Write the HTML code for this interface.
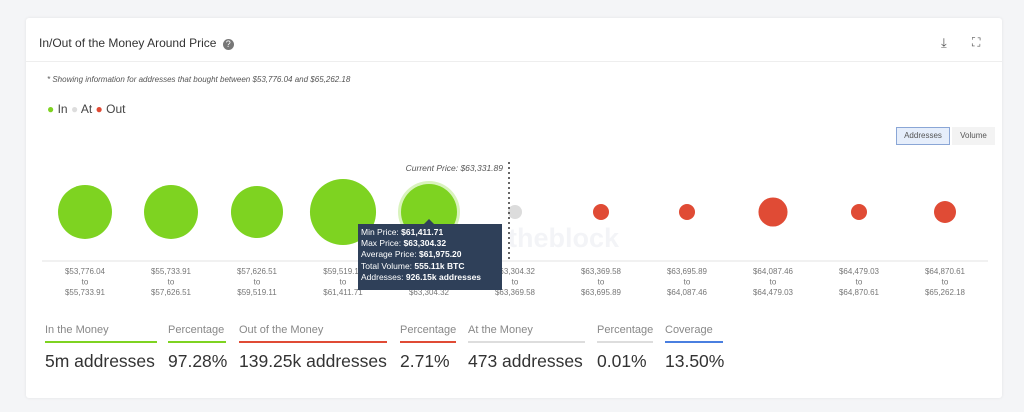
<!DOCTYPE html>
<html><head><meta charset="utf-8"><style>
body{margin:0;width:1024px;height:412px;background:#f4f5f7;font-family:"Liberation Sans",sans-serif;overflow:hidden;position:relative}
.card{position:absolute;left:26px;top:18px;width:976px;height:380px;background:#fff;border-radius:3px;box-shadow:0 0 3px rgba(0,0,0,.08)}
.abs{position:absolute}
.stat{position:absolute;top:324px}
.stat .l{font-size:11px;color:#888;padding-bottom:5px;border-bottom:2px solid}
.stat .v{font-size:17.5px;color:#333;margin-top:8px;white-space:nowrap}
</style></head><body>
<div class="card"></div>
<div class="abs" style="left:39px;top:36px;font-size:12px;color:#333">In/Out of the Money Around Price <span style="display:inline-block;width:11px;height:11px;border-radius:50%;background:#777;color:#fff;font-size:9px;text-align:center;line-height:11px;margin-left:3px">?</span></div>
<div class="abs" style="left:941px;top:35px;font-size:13px;color:#555">⤓</div>
<div class="abs" style="left:972px;top:35px;font-size:12px;color:#555">⛶</div>
<div class="abs" style="left:26px;top:61px;width:976px;height:1px;background:#eee"></div>
<div class="abs" style="left:47px;top:75px;font-size:8px;font-style:italic;color:#555">* Showing information for addresses that bought between $53,776.04 and $65,262.18</div>
<div class="abs" style="left:47px;top:102px;font-size:12px;color:#444">
<span><span style="color:#7ed321">●</span> In</span>
<span><span style="color:#ddd">●</span> At</span>
<span><span style="color:#e04b35">●</span> Out</span></div>
<div class="abs" style="left:896px;top:127px;width:52px;height:16px;border:1px solid #8aa6d6;background:#e6eefb;font-size:8px;color:#555;text-align:center;line-height:16px">Addresses</div>
<div class="abs" style="left:952px;top:127px;width:43px;height:18px;background:#f3f3f3;font-size:8px;color:#555;text-align:center;line-height:18px">Volume</div>
<svg class="abs" style="left:0;top:0" width="1024" height="412">
<text x="508" y="247" font-size="27" font-weight="bold" fill="#f3f4f7">theblock</text>
<g id="g"></g></svg>
<div class="abs" style="left:358px;top:224px;width:138px;height:60px;padding:3px;background:#2f4059;color:#fff;font-size:8.5px;line-height:11.2px">
<div style="position:absolute;left:66px;top:-5px;border:5px solid transparent;border-top:0;border-bottom-color:#2f4059"></div>
Min Price: <b>$61,411.71</b><br>Max Price: <b>$63,304.32</b><br>Average Price: <b>$61,975.20</b><br>Total Volume: <b>555.11k BTC</b><br>Addresses: <b>926.15k addresses</b></div>
<div class="stat" style="left:45px"><div class="l" style="border-color:#7ed321;width:112px">In the Money</div><div class="v">5m addresses</div></div>
<div class="stat" style="left:168px"><div class="l" style="border-color:#7ed321;width:58px">Percentage</div><div class="v">97.28%</div></div>
<div class="stat" style="left:239px"><div class="l" style="border-color:#e04b35;width:148px">Out of the Money</div><div class="v">139.25k addresses</div></div>
<div class="stat" style="left:400px"><div class="l" style="border-color:#e04b35;width:56px">Percentage</div><div class="v">2.71%</div></div>
<div class="stat" style="left:468px"><div class="l" style="border-color:#ddd;width:117px">At the Money</div><div class="v">473 addresses</div></div>
<div class="stat" style="left:597px"><div class="l" style="border-color:#ddd;width:56px">Percentage</div><div class="v">0.01%</div></div>
<div class="stat" style="left:665px"><div class="l" style="border-color:#4a7fe0;width:58px">Coverage</div><div class="v">13.50%</div></div>
<script>
const lows=["$53,776.04","$55,733.91","$57,626.51","$59,519.11","$61,411.71","$63,304.32","$63,369.58","$63,695.89","$64,087.46","$64,479.03","$64,870.61"];
const highs=["$55,733.91","$57,626.51","$59,519.11","$61,411.71","$63,304.32","$63,369.58","$63,695.89","$64,087.46","$64,479.03","$64,870.61","$65,262.18"];
const status=["in","in","in","in","in","at","out","out","out","out","out"];
const addresses=[860,860,800,1290,926,58,76,76,250,76,143];
const currentIndex=5.0;
const colors={in:"#7ed321",at:"#dcdcdc",out:"#e04b35"};
const NS="http://www.w3.org/2000/svg",g=document.getElementById('g');
const x0=85,step=86,cy=212;
const xs=i=>x0+i*step, rs=v=>0.92*Math.sqrt(v);
function mk(t,a){const e=document.createElementNS(NS,t);for(const k in a)e.setAttribute(k,a[k]);g.appendChild(e);return e;}
const ax=mk('line',{x1:42,x2:988,y1:261,y2:261,stroke:'#e3e3e3'});


addresses.forEach((v,i)=>{
 if(i===4){const h=mk('circle',{cx:xs(i),cy:cy,r:rs(v)+3,fill:'#d9f3bd'});
 
 }
 const c=mk('circle',{cx:xs(i),cy:cy,r:rs(v),fill:colors[status[i]]});
 
 
 [lows[i],'to',highs[i]].forEach((s,k)=>{
  const t=mk('text',{x:xs(i),y:274+k*10.5,'font-size':8,fill:'#777','text-anchor':'middle'});
  t.textContent=s;
  
  
 });
});
const cx=xs(currentIndex)-6;
const cl=mk('line',{x1:cx,x2:cx,y1:162,y2:261,stroke:'#333','stroke-dasharray':'2,3','stroke-width':1.5});


const ct=mk('text',{x:cx-6,y:171,'font-size':8.5,'font-style':'italic',fill:'#555','text-anchor':'end'});
ct.textContent='Current Price: $63,331.89';


</script>
</body></html>
